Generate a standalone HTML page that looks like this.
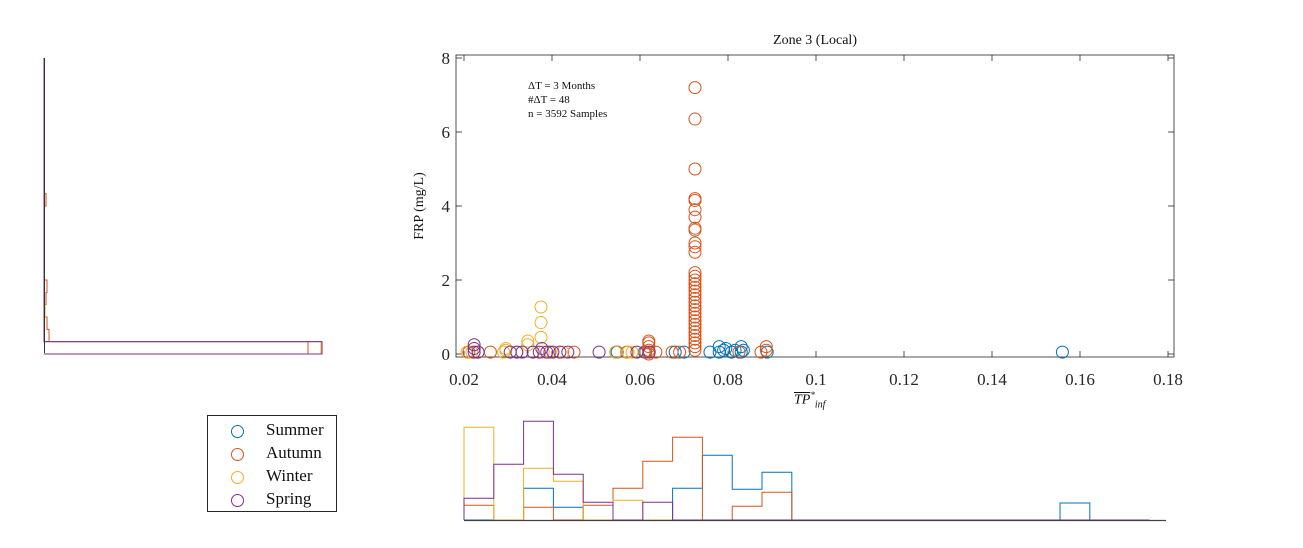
<!DOCTYPE html>
<html><head><meta charset="utf-8">
<style>
body{margin:0;background:#fff;}
svg{display:block;font-family:"Liberation Serif",serif;}
</style></head>
<body>
<svg id="chart" width="1303" height="548" viewBox="0 0 1303 548"></svg>
<script>
// ---- data ----
const seasons = ["Summer","Autumn","Winter","Spring"];
const colors = ["#0072BD","#D95319","#EDB120","#7E2F8E"];
const summerX = [0.0548,0.061,0.068,0.070,0.0759,0.078,0.078,0.079,0.0795,0.0808,0.0816,0.083,0.083,0.0835,0.0889,0.156];
const summerY = [0.05,0.05,0.05,0.05,0.05,0.2,0.05,0.1,0.15,0.05,0.1,0.2,0.05,0.1,0.05,0.05];
const autumnX = [0.0211,0.026,0.0395,0.045,0.0545,0.057,0.0613,0.062,0.062,0.062,0.062,0.062,0.0636,0.0673,0.069,0.0825,0.0875,0.0887,0.0887,
  0.0725,0.0725,0.0725,0.0725,0.0725,0.0725,0.0725,0.0725,0.0725,0.0725,0.0725,0.0725,0.0725,0.0725,0.0725,0.0725,0.0725,0.0725,0.0725,0.0725,0.0725,0.0725,0.0725,0.0725,0.0725,0.0725,0.0725,0.0725,0.0725,0.0725,0.0725,0.0725,0.0725,0.0725];
const autumnY = [0.05,0.05,0.05,0.05,0.05,0.05,0.05,0.0,0.1,0.2,0.3,0.35,0.05,0.05,0.05,0.05,0.05,0.1,0.2,
  7.2,6.35,5.0,4.2,4.15,3.9,3.7,3.4,3.35,3.0,2.9,2.75,2.2,2.1,2.0,1.9,1.8,1.7,1.6,1.5,1.4,1.3,1.2,1.1,1.0,0.9,0.8,0.7,0.6,0.5,0.4,0.3,0.2,0.1];
const winterX = [0.0207,0.0218,0.0232,0.029,0.0295,0.0295,0.032,0.0345,0.0345,0.0375,0.0375,0.0375,0.038,0.0425,0.0545,0.0573,0.0582];
const winterY = [0.05,0.05,0.05,0.05,0.1,0.15,0.05,0.25,0.35,1.27,0.85,0.45,0.05,0.05,0.05,0.05,0.05];
const springX = [0.0223,0.0223,0.0223,0.0232,0.0305,0.032,0.0332,0.0357,0.0371,0.0377,0.0388,0.0402,0.0418,0.0436,0.0507,0.0593,0.0621];
const springY = [0.25,0.15,0.05,0.05,0.05,0.05,0.05,0.05,0.05,0.15,0.05,0.05,0.05,0.05,0.05,0.05,0.05];
const xTicks = [0.02,0.04,0.06,0.08,0.1,0.12,0.14,0.16,0.18];
const xTickLabels = ["0.02","0.04","0.06","0.08","0.1","0.12","0.14","0.16","0.18"];
const yTicks = [0,2,4,6,8];
const yTickLabels = ["0","2","4","6","8"];
// bottom histogram (bins of width 0.00677 starting at 0.02), counts per season
const binW = 0.006773;
const histSummer = [0,0,31.7,12.7,0,0,0,31.7,64.7,30.7,47.7,0,0,0,0,0,0,0,0,0,17,0,0];
const histAutumn = [14.7,0,12.7,0,14.7,31.7,58.7,82.7,0,13.7,27.7,0,0,0,0,0,0,0,0,0,0,0,0];
const histWinter = [92.7,0,51.7,38.7,0,19.7,0,0,0,0,0,0,0,0,0,0,0,0,0,0,0,0,0];
const histSpring = [21.7,55.7,98.7,45.7,17.7,0,17.7,0,0,0,0,0,0,0,0,0,0,0,0,0,0,0,0];
// left histogram (FRP bins of width 1/3)
const yBinW = 1/3;
const lhSummer = [278,0,0,0,0,0,0,0,0,0,0,0,0,0,0,0,0,0,0,0,0,0,0,0];
const lhAutumn = [264,5,3,0,2,3,0,0,0,0,0,0,2,0,0,0,0,0,0,0,0,0,0,0];
const lhWinter = [277,0,0,1,0,0,0,0,0,0,0,0,0,0,0,0,0,0,0,0,0,0,0,0];
const lhSpring = [278,0,0,0,0,0,0,0,0,0,0,0,0,0,0,0,0,0,0,0,0,0,0,0];

// ---- axes ----
const X0=456,X1=1174,Y0=357,Y1=55;
const sx = v => 464 + (v-0.02)*4400;
const sy = v => 354 - v*37;
const hy = c => 520 - c;        // bottom hist
const lx = c => 44 + c;         // left hist
const NS="http://www.w3.org/2000/svg";
const svg=document.getElementById('chart');
function mk(tag,attrs,parent){const e=document.createElementNS(NS,tag);for(const k in attrs)e.setAttribute(k,attrs[k]);(parent||svg).appendChild(e);return e;}

// main axes box
const box=mk('rect',{x:X0,y:Y1,width:X1-X0,height:Y0-Y1,fill:'none',stroke:'#262626','stroke-width':0.8});


xTicks.forEach((t,i)=>{
  const x=sx(t);
  const l1=mk('line',{x1:x,x2:x,y1:Y0,y2:Y0-6,stroke:'#262626','stroke-width':0.8});
  
  
  const l2=mk('line',{x1:x,x2:x,y1:Y1,y2:Y1+6,stroke:'#262626','stroke-width':0.8});
  
  
  const tx=mk('text',{x:x,y:Y0+28,'text-anchor':'middle','font-size':17,fill:'#262626'});
  tx.textContent=xTickLabels[i];
  
  
});
yTicks.forEach((t,i)=>{
  const y=sy(t);
  const l1=mk('line',{x1:X0,x2:X0+6,y1:y,y2:y,stroke:'#262626','stroke-width':0.8});
  
  
  const l2=mk('line',{x1:X1,x2:X1-6,y1:y,y2:y,stroke:'#262626','stroke-width':0.8});
  
  
  const tx=mk('text',{x:X0-6,y:y+6,'text-anchor':'end','font-size':17,fill:'#262626'});
  tx.textContent=yTickLabels[i];
  
  
});

// scatter
const sets=[[summerX,summerY],[autumnX,autumnY],[winterX,winterY],[springX,springY]];
[0,1,2,3].forEach(s=>{
  const g=mk('g',{});
  
  
  sets[s][0].forEach((xv,i)=>{
    const c=mk('circle',{cx:sx(xv),cy:sy(sets[s][1][i]),r:6,fill:'none',stroke:colors[s],'stroke-width':1},g);
    
    
  });
});

// stairs outlines
function stairsX(counts){
  let d=`M${sx(0.02)},520`;
  counts.forEach((c,i)=>{ d+=`V${hy(c)}H${sx(0.02+(i+1)*binW)}`; });
  return d+'V520';
}
function stairsY(counts){
  let d=`M44,${sy(0)}`;
  counts.forEach((c,i)=>{ d+=`H${lx(c)}V${sy((i+1)*yBinW)}`; });
  return d+'H44';
}
const bh=[histSummer,histAutumn,histWinter,histSpring];
[0,1,2,3].forEach(s=>{
  const p=mk('path',{d:stairsX(bh[s]),fill:'none',stroke:colors[s],'stroke-width':1});
  
  
});
const bl=mk('line',{x1:464,x2:1166,y1:520.5,y2:520.5,stroke:'#444','stroke-width':1.3});



const lh=[lhSummer,lhAutumn,lhWinter,lhSpring];
[0,1,2,3].forEach(s=>{
  const p=mk('path',{d:stairsY(lh[s]),fill:'none',stroke:colors[s],'stroke-width':1});
  
  
});
const ll=mk('line',{x1:44.5,x2:44.5,y1:58,y2:353,stroke:'#333','stroke-width':1});


</script>
<div style="position:absolute;left:0;top:0;width:1303px;height:548px;pointer-events:none;font-family:'Liberation Serif',serif;color:#111;">
  <div style="position:absolute;left:0;width:1630px;top:33px;text-align:center;font-size:14px;">Zone 3 (Local)</div>
  <div style="position:absolute;left:528px;top:79px;font-size:11px;line-height:14px;">ΔT = 3 Months<br>#ΔT = 48<br>n = 3592 Samples</div>
  <div style="position:absolute;left:420px;top:206px;transform:translate(-50%,-50%) rotate(-90deg);font-size:14px;white-space:nowrap;">FRP (mg/L)</div>
  <div style="position:absolute;left:794px;top:390px;font-size:14px;font-style:italic;white-space:nowrap;"><span style="text-decoration:overline;">TP</span><sup style="font-size:9px;">*</sup><sub style="font-size:10px;">inf</sub></div>
  <div style="position:absolute;left:207px;top:415px;width:128px;height:95px;border:1px solid #262626;background:#fff;font-size:17px;">
    <div style="position:absolute;left:23px;top:4px;white-space:nowrap;"><span style="display:inline-block;width:11px;height:11px;border:1px solid #0072BD;border-radius:50%;vertical-align:middle;"></span><span style="margin-left:22px;">Summer</span></div>
    <div style="position:absolute;left:23px;top:27px;white-space:nowrap;"><span style="display:inline-block;width:11px;height:11px;border:1px solid #D95319;border-radius:50%;vertical-align:middle;"></span><span style="margin-left:22px;">Autumn</span></div>
    <div style="position:absolute;left:23px;top:50px;white-space:nowrap;"><span style="display:inline-block;width:11px;height:11px;border:1px solid #EDB120;border-radius:50%;vertical-align:middle;"></span><span style="margin-left:22px;">Winter</span></div>
    <div style="position:absolute;left:23px;top:73px;white-space:nowrap;"><span style="display:inline-block;width:11px;height:11px;border:1px solid #7E2F8E;border-radius:50%;vertical-align:middle;"></span><span style="margin-left:22px;">Spring</span></div>
  </div>
</div>
</body></html>
